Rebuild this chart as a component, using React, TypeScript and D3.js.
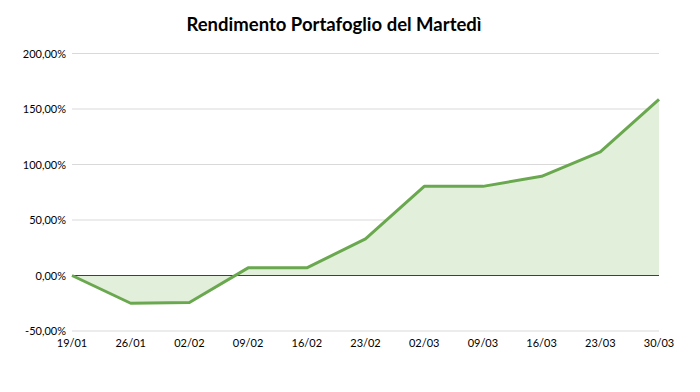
import React from "react";
import * as d3 from "d3";

const categories = ["19/01", "26/01", "02/02", "09/02", "16/02", "23/02", "02/03", "09/03", "16/03", "23/03", "30/03"];
const values = [0, -25, -24.4, 6.9, 6.9, 33, 80.3, 80.3, 89.4, 111.3, 158.6];
const yTicks = [-50, 0, 50, 100, 150, 200];
const title = "Rendimento Portafoglio del Martedì";

export default function App() {
  const W = 700, H = 392;
  const x = d3.scalePoint<string>().domain(categories).range([72, 659]);
  const y = d3.scaleLinear().domain([-50, 200]).range([331, 53.5]);
  const data = categories.map((c, i) => ({ c, v: values[i] }));
  const line = d3.line<{ c: string; v: number }>().x(d => x(d.c)!).y(d => y(d.v));
  const area = d3.area<{ c: string; v: number }>().x(d => x(d.c)!).y0(y(0)).y1(d => y(d.v));
  const fmt = (v: number) => v.toFixed(2).replace(".", ",") + "%";
  const font = "Lato, 'Open Sans', sans-serif";
  return (
    <svg width={W} height={H} style={{ position: "absolute", left: 0, top: 0, background: "#fff" }}>
      <rect width={W} height={H} fill="#fff" />
      <text x={334} y={31} textAnchor="middle" fontFamily={font} fontWeight="bold" fontSize={18.5} fill="#000">{title}</text>
      {yTicks.map(t => (
        <g key={t}>
          {t !== 0 && <line x1={72} x2={659} y1={y(t)} y2={y(t)} stroke="#d9d9d9" strokeWidth={1} />}
          <text x={66} y={y(t) + 4} textAnchor="end" fontFamily={font} fontSize={11} fill="#000">{fmt(t)}</text>
        </g>
      ))}
      <path d={area(data)!} fill="#e2efda" />
      <line x1={72} x2={659} y1={y(0)} y2={y(0)} stroke="#404040" strokeWidth={1} />
      <path d={line(data)!} fill="none" stroke="#6aa84f" strokeWidth={3} strokeLinejoin="round" />
      {categories.map(c => (
        <text key={c} x={x(c)!} y={347} textAnchor="middle" fontFamily={font} fontSize={11} fill="#000">{c}</text>
      ))}
    </svg>
  );
}
